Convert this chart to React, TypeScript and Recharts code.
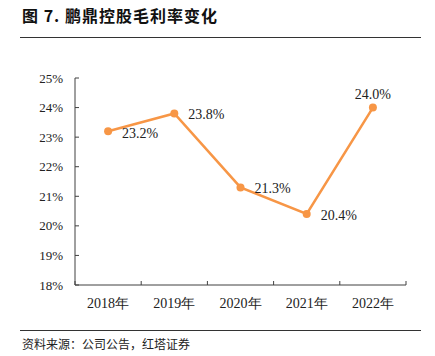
import React from 'react';
import { LineChart, Line, XAxis, YAxis, LabelList } from 'recharts';

const years = ['2018年', '2019年', '2020年', '2021年', '2022年'];
const grossMargin = [23.2, 23.8, 21.3, 20.4, 24.0];
const yTicks = [18, 19, 20, 21, 22, 23, 24, 25];

const data = years.map((year, i) => ({ year, value: grossMargin[i] }));

const W = 435;
const H = 356;
const margin = { top: 78, right: 29, bottom: 41, left: 35 };
const Y_AXIS_W = 40;
const X_AXIS_H = 30;
const plotWidth = W - margin.left - margin.right - Y_AXIS_W;
const band = plotWidth / years.length;

const ORANGE = '#F79646';
const AXIS = '#404040';
const serif = '"Liberation Serif", "Times New Roman", serif';

const XTick = (props: any) => {
  const { x, y, payload, index } = props;
  return (
    <g>
      <line x1={x - band / 2} x2={x - band / 2} y1={y} y2={y - 4} stroke={AXIS} strokeWidth={1} />
      {index === years.length - 1 && (
        <line x1={x + band / 2} x2={x + band / 2} y1={y} y2={y - 4} stroke={AXIS} strokeWidth={1} />
      )}
      <text x={x} y={y + 18} textAnchor="middle" dominantBaseline="central" fontFamily={serif} fontSize={14} fill="#222">
        {payload.value}
      </text>
    </g>
  );
};

const ValueLabel = (props: any) => {
  const { x, y, value, index } = props;
  const last = index === grossMargin.length - 1;
  return (
    <text
      x={last ? x : x + 14}
      y={last ? y - 13 : y + (index === 0 ? 2 : 1)}
      textAnchor={last ? 'middle' : 'start'}
      dominantBaseline="central"
      fontFamily={serif}
      fontSize={14}
      fill="#222"
    >
      {Number(value).toFixed(1) + '%'}
    </text>
  );
};

export default function App() {
  return (
    <div style={{ position: 'absolute', left: 0, top: 0, width: W, height: H, background: '#fff' }}>
      <div
        style={{
          position: 'absolute', left: 22, top: 5, fontSize: 16, fontWeight: 700, letterSpacing: 1,
          fontFamily: '"Noto Sans CJK SC", sans-serif', color: '#111', lineHeight: '20px', whiteSpace: 'nowrap',
        }}
      >
        图 7. 鹏鼎控股毛利率变化
      </div>
      <div style={{ position: 'absolute', left: 20, top: 37, width: 401, height: 1, background: '#333' }} />

      <LineChart width={W} height={H} data={data} margin={margin}>
        <XAxis
          dataKey="year"
          scale="band"
          height={X_AXIS_H}
          axisLine={{ stroke: AXIS, strokeWidth: 1 }}
          tickLine={false}
          tickSize={0}
          tickMargin={0}
          tick={<XTick />}
          interval={0}
        />
        <YAxis
          width={Y_AXIS_W}
          domain={[18, 25]}
          ticks={yTicks}
          interval={0}
          axisLine={{ stroke: AXIS, strokeWidth: 1 }}
          tickLine={{ stroke: AXIS, strokeWidth: 1 }}
          tickSize={-4}
          tickMargin={16}
          tickFormatter={(v: number) => v + '%'}
          tick={{ fontFamily: serif, fontSize: 13, fill: '#222' }}
        />
        <Line
          type="linear"
          dataKey="value"
          stroke={ORANGE}
          strokeWidth={2.5}
          dot={{ r: 4, fill: ORANGE, stroke: ORANGE, strokeWidth: 0 }}
          activeDot={false}
          isAnimationActive={false}
        >
          <LabelList dataKey="value" content={<ValueLabel />} />
        </Line>
      </LineChart>

      <div style={{ position: 'absolute', left: 20, top: 330, width: 401, height: 1, background: '#333' }} />
      <div
        style={{
          position: 'absolute', left: 22, top: 336, fontSize: 12,
          fontFamily: '"Noto Sans CJK SC", sans-serif', color: '#222', lineHeight: '16px', whiteSpace: 'nowrap',
        }}
      >
        资料来源：公司公告，红塔证券
      </div>
    </div>
  );
}
